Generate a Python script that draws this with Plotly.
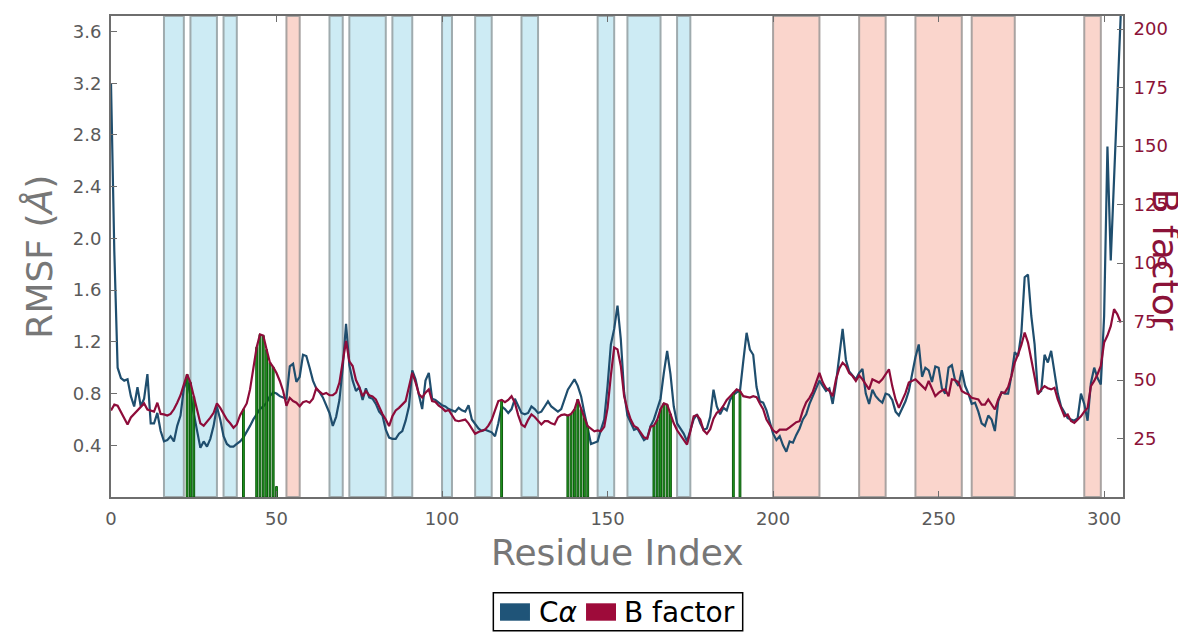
import plotly.graph_objects as go

# ---------------- data ----------------
residues = list(range(306))

rmsf_ca = [
    3.20, 1.90, 1.00, 0.92, 0.90, 0.91, 0.78, 0.70, 0.85, 0.70,
    0.76, 0.95, 0.57, 0.57, 0.65, 0.51, 0.43, 0.44, 0.47, 0.43,
    0.55, 0.63, 0.84, 0.91, 0.78, 0.65, 0.50, 0.38, 0.43, 0.39,
    0.45, 0.55, 0.70, 0.60, 0.47, 0.41, 0.39, 0.39, 0.41, 0.43,
    0.46, 0.50, 0.55, 0.60, 0.64, 0.68, 0.70, 0.73, 0.78, 0.81,
    0.80, 0.78, 0.77, 0.76, 1.01, 1.03, 0.89, 0.93, 1.10, 1.09,
    1.00, 0.90, 0.84, 0.81, 0.77, 0.71, 0.65, 0.55, 0.62, 0.75,
    1.00, 1.34, 1.02, 0.90, 0.82, 0.85, 0.75, 0.84, 0.77, 0.76,
    0.72, 0.66, 0.63, 0.52, 0.46, 0.45, 0.45, 0.49, 0.51, 0.59,
    0.70, 0.98, 0.91, 0.79, 0.68, 0.90, 0.96, 0.76, 0.75, 0.73,
    0.71, 0.70, 0.68, 0.67, 0.66, 0.69, 0.67, 0.66, 0.71, 0.60,
    0.56, 0.53, 0.51, 0.52, 0.51, 0.50, 0.47, 0.57, 0.70, 0.68,
    0.65, 0.68, 0.76, 0.70, 0.65, 0.64, 0.65, 0.70, 0.68, 0.65,
    0.66, 0.70, 0.74, 0.70, 0.68, 0.66, 0.68, 0.76, 0.83, 0.87,
    0.91, 0.86, 0.78, 0.65, 0.52, 0.41, 0.42, 0.43, 0.52, 0.60,
    0.86, 1.18, 1.30, 1.48, 1.22, 0.81, 0.63, 0.57, 0.52, 0.53,
    0.49, 0.44, 0.46, 0.55, 0.60, 0.68, 0.76, 0.96, 1.13, 0.95,
    0.70, 0.57, 0.53, 0.49, 0.43, 0.52, 0.60, 0.64, 0.57, 0.52,
    0.53, 0.62, 0.83, 0.70, 0.64, 0.69, 0.67, 0.75, 0.79, 0.81,
    0.82, 1.05, 1.27, 1.14, 1.10, 0.85, 0.74, 0.73, 0.67, 0.58,
    0.49, 0.44, 0.47, 0.40, 0.35, 0.43, 0.42, 0.48, 0.53, 0.60,
    0.64, 0.72, 0.78, 0.84, 0.90, 0.86, 0.82, 0.84, 0.72, 0.88,
    1.10, 1.30, 1.06, 0.97, 0.94, 0.91, 0.96, 0.99, 0.80, 0.72,
    0.83, 0.78, 0.75, 0.73, 0.80, 0.79, 0.75, 0.66, 0.63, 0.69,
    0.74, 0.82, 0.96, 1.08, 1.18, 0.93, 1.00, 0.98, 0.89, 1.01,
    1.00, 0.84, 0.80, 1.00, 1.02, 0.90, 0.86, 0.98, 0.86, 0.80,
    0.72, 0.73, 0.66, 0.57, 0.55, 0.63, 0.60, 0.51, 0.74, 0.81,
    0.80, 0.80, 0.94, 1.12, 1.09, 1.27, 1.70, 1.72, 1.40, 1.18,
    0.80, 0.82, 1.10, 1.04, 1.13, 0.98, 0.80, 0.70, 0.65, 0.61,
    0.60, 0.59, 0.61, 0.80, 0.72, 0.59, 0.88, 1.00, 0.92, 0.87,
    1.40, 2.71, 1.83, 2.45, 3.10, 3.72,
]

b_factor = [
    37.0, 39.5, 39.0, 36.5, 33.5, 31.0, 34.0, 35.5, 36.7, 38.5,
    40.0, 37.4, 37.0, 36.5, 40.3, 35.5, 35.3, 34.8, 35.5, 37.5,
    40.3, 43.5, 48.0, 52.4, 48.9, 43.0, 36.5, 31.5, 30.5, 32.0,
    33.9, 36.0, 40.0, 38.1, 35.3, 33.1, 31.5, 29.6, 31.0, 35.0,
    37.5, 40.0, 46.0, 55.0, 64.0, 69.5, 69.0, 63.0, 57.5, 55.5,
    53.0, 49.6, 45.3, 39.0, 42.4, 41.0, 40.3, 38.8, 40.5, 41.0,
    40.3, 42.0, 46.5, 45.0, 43.9, 44.5, 43.5, 43.5, 44.6, 48.9,
    57.4, 66.7, 58.0, 56.0, 50.0, 47.0, 43.1, 45.3, 43.5, 43.0,
    41.7, 38.5, 35.5, 33.1, 30.3, 34.5, 37.0, 38.1, 39.5, 41.0,
    47.0, 53.1, 49.0, 44.0, 42.5, 44.6, 46.0, 41.0, 40.6, 39.0,
    38.1, 36.7, 37.2, 35.0, 32.8, 32.4, 32.6, 33.1, 31.5, 29.0,
    27.0, 27.8, 28.4, 28.8, 30.5, 33.0, 37.0, 41.0, 41.5, 40.5,
    41.5, 43.1, 40.3, 35.0, 31.0, 30.0, 33.0, 35.3, 34.2, 32.5,
    31.0, 32.4, 32.4, 31.5, 31.0, 34.0, 35.0, 35.3, 34.8, 35.5,
    37.4, 41.7, 37.4, 33.9, 30.3, 29.0, 28.1, 28.5, 28.1, 30.0,
    38.0, 52.0, 63.9, 63.1, 56.0, 43.1, 37.4, 33.1, 30.3, 29.6,
    27.4, 25.5, 25.0, 30.0, 30.5, 33.0, 37.5, 40.0, 39.5, 35.5,
    31.5, 28.5, 26.5, 24.5, 22.4, 28.0, 34.5, 35.0, 33.1, 28.5,
    27.0, 29.0, 33.5, 36.0, 37.0, 39.0, 41.5, 43.0, 44.5, 46.0,
    45.3, 43.1, 42.8, 42.5, 43.1, 42.7, 40.0, 37.5, 33.1, 30.5,
    28.5, 27.4, 28.8, 28.8, 28.8, 29.8, 31.0, 32.0, 32.4, 37.0,
    40.5, 42.4, 45.0, 49.5, 53.1, 49.0, 46.5, 45.3, 43.1, 50.3,
    55.0, 57.4, 56.0, 53.0, 51.7, 49.6, 52.0, 50.3, 48.0, 46.0,
    50.3, 49.5, 48.9, 50.3, 52.5, 54.6, 47.4, 41.7, 38.1, 41.5,
    44.5, 48.9, 49.5, 50.3, 48.9, 47.5, 46.0, 49.6, 46.0, 43.1,
    44.5, 45.5, 46.0, 43.1, 50.3, 50.0, 49.0, 45.3, 44.5, 43.9,
    42.4, 42.0, 41.7, 39.5, 39.5, 41.7, 39.5, 37.4, 41.7, 44.6,
    44.6, 47.0, 51.7, 57.4, 61.0, 65.0, 70.3, 66.0, 58.8, 51.7,
    43.9, 46.0, 47.4, 46.5, 46.0, 46.7, 41.7, 38.1, 34.5, 35.3,
    32.5, 31.7, 33.1, 34.5, 36.5, 38.1, 47.4, 49.6, 52.5, 56.0,
    66.0, 69.0, 73.0, 80.3, 78.1, 74.6,
]

# highlighted residues (green sticks), height in B-factor units
marked_res = [23, 24, 25, 40, 44, 45, 46, 47, 48, 49, 50, 118,
              138, 139, 140, 141, 142, 143, 144,
              164, 165, 166, 167, 168, 169, 188, 190]
marked_val = [52.4, 48.9, 43.0, 37.5, 64.0, 69.5, 69.0, 63.0, 57.5, 55.5, 4.5, 41.5,
              34.8, 35.5, 37.4, 41.7, 37.4, 33.9, 30.3,
              30.5, 33.0, 37.5, 40.0, 39.5, 35.5, 44.5, 45.3]

# secondary-structure regions (residue ranges)
blue_regions = [(16, 22), (24, 32), (34, 38), (66, 70), (72, 83), (85, 91),
                (100, 103), (110, 115), (124, 129), (147, 152), (156, 166), (171, 175)]
red_regions = [(53, 57), (200, 214), (226, 234), (243, 257), (260, 273), (294, 299)]

x_ticks = [0, 50, 100, 150, 200, 250, 300]
y_ticks = [0.4, 0.8, 1.2, 1.6, 2.0, 2.4, 2.8, 3.2, 3.6]
y2_ticks = [25, 50, 75, 100, 125, 150, 175, 200]

legend_labels = ["C<i>α</i>", "B factor"]

# ---------------- style ----------------
FONT = "DejaVu Sans"
BLUE = "#1f4e6e"
RED = "#8e0c3a"
GRAY = "#6e6e6e"
TICKGRAY = "#5a5a5a"

fig = go.Figure()

shapes = []
for a, b in blue_regions:
    shapes.append(dict(type="rect", xref="x", yref="paper", x0=a, x1=b, y0=0, y1=1,
                       fillcolor="#cdebf4", line=dict(color="#9fabae", width=2), layer="below"))
for a, b in red_regions:
    shapes.append(dict(type="rect", xref="x", yref="paper", x0=a, x1=b, y0=0, y1=1,
                       fillcolor="#fad5cc", line=dict(color="#a9a3a1", width=2), layer="below"))

# legend box drawn below the axes
shapes.append(dict(type="rect", xref="paper", yref="paper", x0=0.3778, x1=0.6242,
                   y0=-0.278, y1=-0.1992, fillcolor="white",
                   line=dict(color="black", width=1.5), layer="above"))
shapes.append(dict(type="rect", xref="paper", yref="paper", x0=0.3844, x1=0.4140,
                   y0=-0.2572, y1=-0.2210, fillcolor="#1f5478", line=dict(width=0), layer="above"))
shapes.append(dict(type="rect", xref="paper", yref="paper", x0=0.4694, x1=0.4990,
                   y0=-0.2572, y1=-0.2210, fillcolor="#9e0b3a", line=dict(width=0), layer="above"))

fig.add_trace(go.Scatter(x=residues, y=rmsf_ca, mode="lines", yaxis="y", name="Cα",
                         line=dict(color=BLUE, width=2.2), showlegend=False))
fig.add_trace(go.Bar(x=marked_res, y=marked_val, yaxis="y2", width=0.55,
                     marker=dict(color="#1f9a1f", line=dict(color="#0d5a0d", width=1)),
                     showlegend=False))
fig.add_trace(go.Scatter(x=residues, y=b_factor, mode="lines", yaxis="y2", name="B factor",
                         line=dict(color=RED, width=2.2), showlegend=False))

# the page body adds an 8px offset, so the figure is 8px smaller with trimmed left/top margins
fig.update_layout(
    width=1178, height=624,
    margin=dict(l=103, r=63, t=8, b=135, autoexpand=False),
    paper_bgcolor="white", plot_bgcolor="white",
    font=dict(family=FONT, color=TICKGRAY),
    shapes=shapes,
    showlegend=False,
    xaxis=dict(range=[0, 305.7], tickvals=x_ticks, ticks="inside", ticklen=6,
               tickcolor=GRAY, showline=True, linecolor=GRAY, linewidth=2,
               mirror="ticks", showgrid=False, zeroline=False,
               tickfont=dict(size=18, color=TICKGRAY, family=FONT), ticklabelstandoff=4),
    yaxis=dict(range=[0, 3.72], tickvals=y_ticks, ticktext=[f"{v:.1f}" for v in y_ticks],
               ticks="inside", ticklen=6, tickcolor=GRAY, showline=True,
               linecolor=GRAY, linewidth=2, showgrid=False, zeroline=False,
               tickfont=dict(size=18, color=TICKGRAY, family=FONT), ticklabelstandoff=4),
    yaxis2=dict(range=[0, 205.6], tickvals=y2_ticks, overlaying="y", side="right",
                ticks="inside", ticklen=6, tickcolor=GRAY, showline=True,
                linecolor=GRAY, linewidth=2, showgrid=False, zeroline=False,
                tickfont=dict(size=18, color="#8b1238", family=FONT), ticklabelstandoff=5),
    annotations=[
        dict(text="Residue Index", xref="paper", yref="paper", x=0.5, y=-0.116,
             xanchor="center", yanchor="middle", showarrow=False,
             font=dict(size=36, color="#777777", family=FONT)),
        dict(text="RMSF (<i>Å</i>)", xref="paper", yref="paper", x=-0.072, y=0.50,
             xanchor="center", yanchor="middle", textangle=-90, showarrow=False,
             font=dict(size=36, color="#777777", family=FONT)),
        dict(text="B factor", xref="paper", yref="paper", x=1.0415, y=0.493,
             xanchor="center", yanchor="middle", textangle=90, showarrow=False,
             font=dict(size=36, color="#8b1238", family=FONT)),
        dict(text=legend_labels[0], xref="paper", yref="paper", x=0.4213, y=-0.2391,
             xanchor="left", yanchor="middle", showarrow=False,
             font=dict(size=28, color="black", family=FONT)),
        dict(text=legend_labels[1], xref="paper", yref="paper", x=0.5046, y=-0.2391,
             xanchor="left", yanchor="middle", showarrow=False,
             font=dict(size=28, color="black", family=FONT)),
    ],
)

fig.write_html("out.html")
